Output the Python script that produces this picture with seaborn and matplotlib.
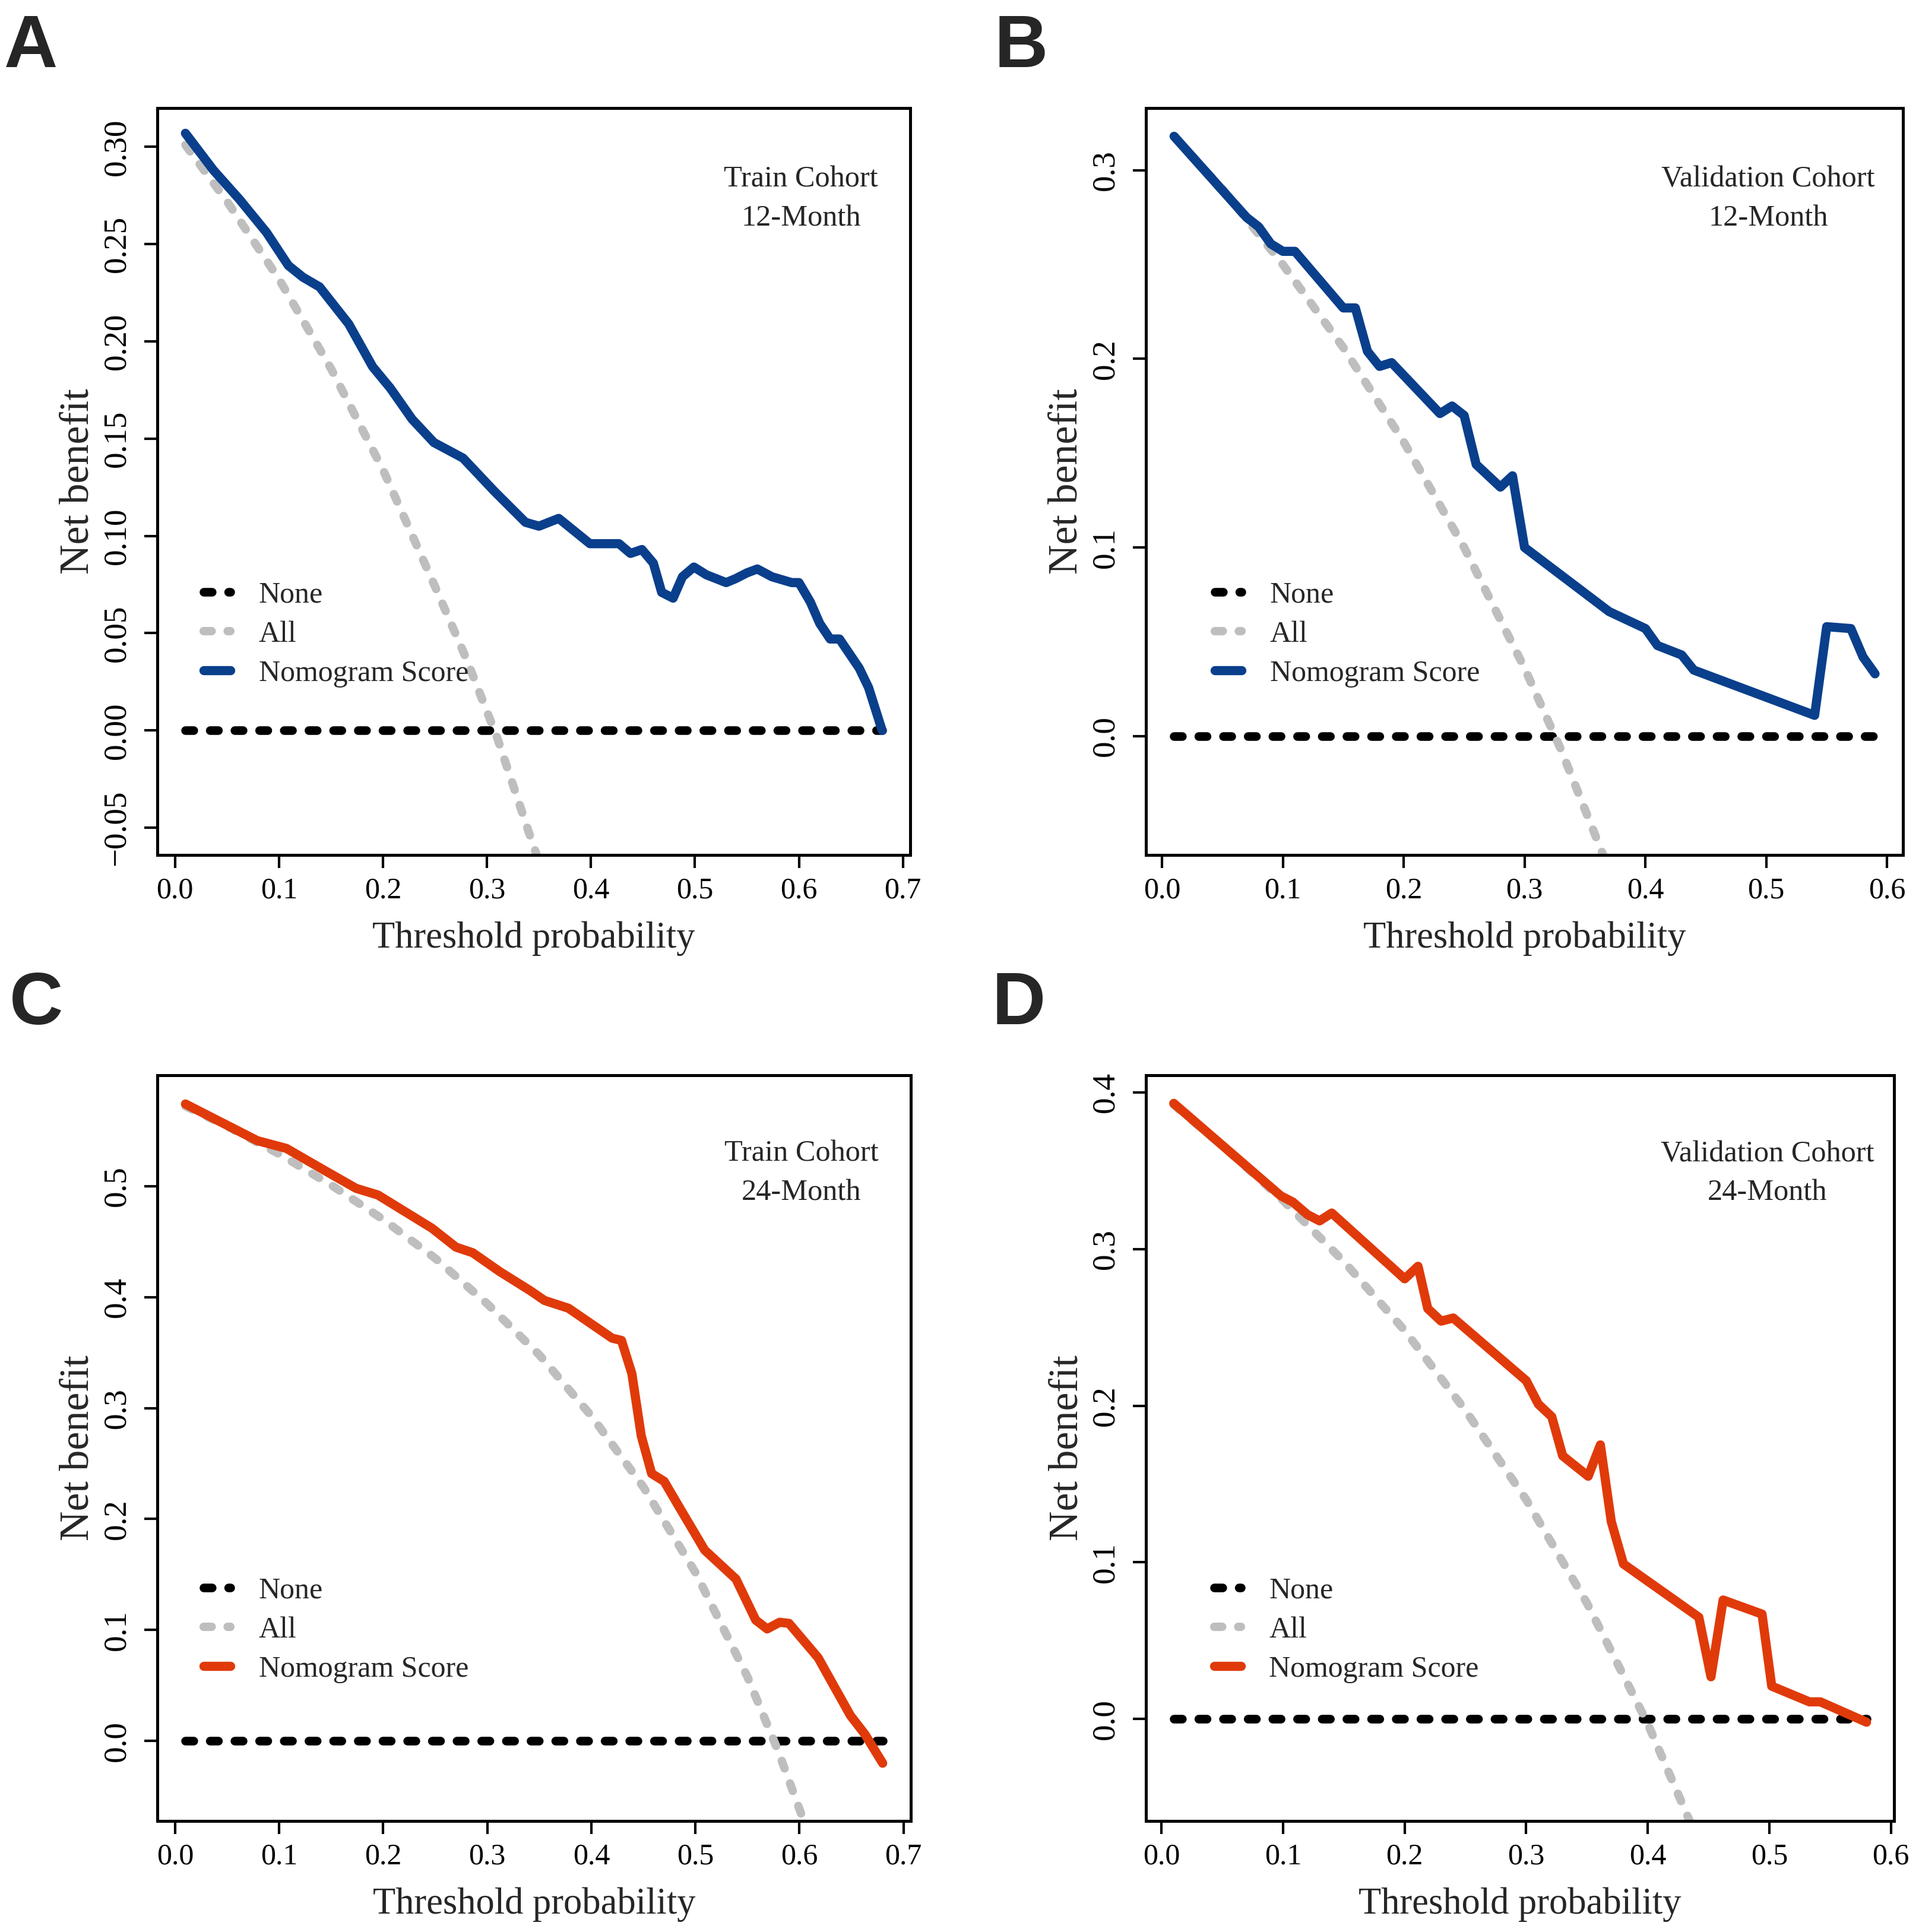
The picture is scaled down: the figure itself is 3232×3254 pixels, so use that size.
import matplotlib
matplotlib.use("Agg")
import matplotlib.pyplot as plt
import seaborn as sns

# ---- values ----
# A: train cohort, 12 months
a_thr = [0.01, 0.037, 0.062, 0.088, 0.109, 0.123, 0.139, 0.167, 0.19, 0.207, 0.228, 0.249,
         0.263, 0.277, 0.307, 0.337, 0.35, 0.369, 0.399, 0.427, 0.438, 0.449, 0.46, 0.468,
         0.479, 0.488, 0.499, 0.511, 0.53, 0.539, 0.55, 0.56, 0.574, 0.593, 0.60, 0.611,
         0.62, 0.63, 0.639, 0.658, 0.667, 0.68]
a_nomo = [0.307, 0.288, 0.273, 0.256, 0.239, 0.233, 0.228, 0.209, 0.187, 0.176, 0.160, 0.148,
          0.144, 0.140, 0.123, 0.107, 0.105, 0.109, 0.096, 0.096, 0.091, 0.093, 0.086, 0.071,
          0.068, 0.079, 0.084, 0.080, 0.076, 0.078, 0.081, 0.083, 0.079, 0.076, 0.076, 0.066,
          0.055, 0.047, 0.047, 0.032, 0.022, 0.0]
a_all_thr = [0.01, 0.05, 0.10, 0.15, 0.20, 0.25, 0.28, 0.31, 0.34, 0.36]
a_all = [0.301, 0.272, 0.232, 0.186, 0.134, 0.074, 0.037, -0.004, -0.052, -0.083]
a_none_thr = [0.01, 0.68]

# B: validation cohort, 12 months
b_thr = [0.01, 0.07, 0.08, 0.09, 0.10, 0.11, 0.15, 0.16, 0.17, 0.18, 0.19, 0.23, 0.24, 0.25,
         0.26, 0.28, 0.29, 0.30, 0.37, 0.40, 0.41, 0.43, 0.44, 0.54, 0.55, 0.57, 0.58, 0.59]
b_nomo = [0.318, 0.275, 0.270, 0.261, 0.257, 0.257, 0.227, 0.227, 0.204, 0.196, 0.198, 0.171,
          0.175, 0.170, 0.144, 0.132, 0.138, 0.100, 0.066, 0.057, 0.048, 0.043, 0.035, 0.011,
          0.058, 0.057, 0.042, 0.033]
b_all_thr = [0.01, 0.05, 0.10, 0.15, 0.20, 0.25, 0.30, 0.33, 0.37]
b_all = [0.318, 0.290, 0.250, 0.206, 0.156, 0.100, 0.036, -0.007, -0.071]
b_none_thr = [0.01, 0.59]

# C: train cohort, 24 months
c_thr = [0.01, 0.079, 0.107, 0.144, 0.174, 0.195, 0.247, 0.270, 0.286, 0.312, 0.341, 0.355,
         0.378, 0.42, 0.429, 0.439, 0.448, 0.458, 0.47, 0.485, 0.509, 0.539, 0.558, 0.569,
         0.581, 0.59, 0.618, 0.649, 0.663, 0.68]
c_nomo = [0.574, 0.541, 0.534, 0.514, 0.498, 0.492, 0.462, 0.445, 0.440, 0.423, 0.406, 0.397,
          0.390, 0.363, 0.361, 0.331, 0.275, 0.241, 0.234, 0.210, 0.172, 0.146, 0.109, 0.101,
          0.107, 0.106, 0.075, 0.023, 0.006, -0.020]
c_all_thr = [0.01, 0.05, 0.10, 0.15, 0.20, 0.25, 0.30, 0.35, 0.40, 0.45, 0.50, 0.55, 0.58, 0.61]
c_all = [0.572, 0.554, 0.529, 0.501, 0.470, 0.435, 0.394, 0.348, 0.293, 0.229, 0.152, 0.058,
         -0.010, -0.087]
c_none_thr = [0.01, 0.68]

# D: validation cohort, 24 months
d_thr = [0.01, 0.098, 0.108, 0.12, 0.13, 0.14, 0.20, 0.211, 0.219, 0.23, 0.24, 0.30, 0.31,
         0.321, 0.33, 0.351, 0.361, 0.37, 0.38, 0.442, 0.452, 0.462, 0.494, 0.502, 0.533,
         0.542, 0.58]
d_nomo = [0.393, 0.334, 0.330, 0.322, 0.318, 0.323, 0.281, 0.289, 0.262, 0.254, 0.256, 0.216,
          0.201, 0.193, 0.168, 0.155, 0.175, 0.126, 0.099, 0.065, 0.027, 0.076, 0.067, 0.021,
          0.011, 0.011, -0.002]
d_all_thr = [0.01, 0.05, 0.10, 0.15, 0.20, 0.25, 0.30, 0.35, 0.40, 0.44]
d_all = [0.392, 0.366, 0.331, 0.292, 0.248, 0.197, 0.140, 0.074, -0.003, -0.075]
d_none_thr = [0.01, 0.58]

none_nb = [0.0, 0.0]

xticks_07 = [0.0, 0.1, 0.2, 0.3, 0.4, 0.5, 0.6, 0.7]
xticks_06 = [0.0, 0.1, 0.2, 0.3, 0.4, 0.5, 0.6]
yticks_a = [-0.05, 0.0, 0.05, 0.10, 0.15, 0.20, 0.25, 0.30]
yticks_b = [0.0, 0.1, 0.2, 0.3]
yticks_c = [0.0, 0.1, 0.2, 0.3, 0.4, 0.5]
yticks_d = [0.0, 0.1, 0.2, 0.3, 0.4]

BLUE = "#0A3F8C"
RED = "#E03A0A"
GREY = "#BEBEBE"
DASH = (0, (0.95, 1.9))

sns.set_style("ticks")
plt.rcParams["font.family"] = ["Liberation Serif", "DejaVu Serif"]
plt.rcParams["axes.linewidth"] = 1.2
plt.rcParams["xtick.major.size"] = 5.3
plt.rcParams["ytick.major.size"] = 5.3
plt.rcParams["xtick.major.width"] = 1.0
plt.rcParams["ytick.major.width"] = 1.0
plt.rcParams["xtick.color"] = "black"
plt.rcParams["ytick.color"] = "black"
plt.rcParams["axes.edgecolor"] = "black"

panels = [
    dict(letter="A", letter_xy=(0.002, 0.9653), rect=[0.0820, 0.5575, 0.3923, 0.3866],
         thr=a_thr, nomo=a_nomo, all_thr=a_all_thr, all_nb=a_all, none_thr=a_none_thr,
         color=BLUE, xlim=(-0.017, 0.707), ylim=(-0.064, 0.320), xticks=xticks_07,
         yticks=yticks_a, ydec=2, cohort="Train Cohort", month="12-Month",
         tx=0.855, ty=(0.8946, 0.842), leg=(0.0615, 0.366)),
    dict(letter="B", letter_xy=(0.518, 0.9653), rect=[0.5972, 0.5575, 0.3945, 0.3866],
         thr=b_thr, nomo=b_nomo, all_thr=b_all_thr, all_nb=b_all, none_thr=b_none_thr,
         color=BLUE, xlim=(-0.0132, 0.6132), ylim=(-0.063, 0.333), xticks=xticks_06,
         yticks=yticks_b, ydec=1, cohort="Validation Cohort", month="12-Month",
         tx=0.822, ty=(0.8946, 0.842), leg=(0.091, 0.366)),
    dict(letter="C", letter_xy=(0.005, 0.4698), rect=[0.0820, 0.0575, 0.3926, 0.3860],
         thr=c_thr, nomo=c_nomo, all_thr=c_all_thr, all_nb=c_all, none_thr=c_none_thr,
         color=RED, xlim=(-0.017, 0.707), ylim=(-0.072, 0.600), xticks=xticks_07,
         yticks=yticks_c, ydec=1, cohort="Train Cohort", month="24-Month",
         tx=0.855, ty=(0.8848, 0.832), leg=(0.0615, 0.327)),
    dict(letter="D", letter_xy=(0.517, 0.4698), rect=[0.5972, 0.0575, 0.3899, 0.3860],
         thr=d_thr, nomo=d_nomo, all_thr=d_all_thr, all_nb=d_all, none_thr=d_none_thr,
         color=RED, xlim=(-0.0128, 0.6028), ylim=(-0.065, 0.411), xticks=xticks_06,
         yticks=yticks_d, ydec=1, cohort="Validation Cohort", month="24-Month",
         tx=0.8306, ty=(0.8848, 0.832), leg=(0.091, 0.327)),
]


def draw_panel(fig, p):
    ax = fig.add_axes(p["rect"])
    sns.lineplot(x=p["none_thr"], y=none_nb, ax=ax, color="black", linewidth=3.5,
                 linestyle=DASH, label="None", errorbar=None)
    sns.lineplot(x=p["all_thr"], y=p["all_nb"], ax=ax, color=GREY, linewidth=3.4,
                 linestyle=DASH, label="All", errorbar=None)
    sns.lineplot(x=p["thr"], y=p["nomo"], ax=ax, color=p["color"], linewidth=3.7,
                 label="Nomogram Score", errorbar=None)
    for line in ax.lines:
        line.set_dash_capstyle("round")
        line.set_solid_capstyle("round")
        line.set_solid_joinstyle("round")

    ax.set_xlim(*p["xlim"])
    ax.set_ylim(*p["ylim"])
    ax.set_xticks(p["xticks"])
    ax.set_xticklabels([f"{t:.1f}" for t in p["xticks"]], fontsize=12)
    ax.set_yticks(p["yticks"])
    fmt = "{:.%df}" % p["ydec"]
    ax.set_yticklabels([fmt.format(t).replace("-", "\u2212") for t in p["yticks"]],
                       fontsize=13.2, rotation=90, va="center")
    ax.tick_params(axis="x", direction="out", pad=3.5)
    ax.tick_params(axis="y", direction="out", pad=5)
    for s in ax.spines.values():
        s.set_visible(True)
        s.set_linewidth(1.2)

    ax.set_xlabel("Threshold probability", fontsize=15)
    ax.set_ylabel("Net benefit", fontsize=16.8)
    ax.xaxis.set_label_coords(0.5, -0.089)
    ax.yaxis.set_label_coords(-0.080, 0.5)

    ax.text(p["tx"], p["ty"][0], p["cohort"], transform=ax.transAxes,
            ha="center", va="baseline", fontsize=12.1)
    ax.text(p["tx"], p["ty"][1], p["month"], transform=ax.transAxes,
            ha="center", va="baseline", fontsize=12.1)

    ax.legend(loc="upper left", bbox_to_anchor=p["leg"], frameon=False, fontsize=12,
              handlelength=0.9, handletextpad=0.95, labelspacing=0.39,
              borderpad=0, borderaxespad=0)

    fig.text(p["letter_xy"][0], p["letter_xy"][1], p["letter"], fontsize=30,
             fontweight="bold", family=["Liberation Sans", "DejaVu Sans"],
             ha="left", va="baseline")
    return ax


fig = plt.figure(figsize=(10.7734, 10.8467), dpi=300)
for p in panels:
    draw_panel(fig, p)

fig.savefig("out.png", dpi=300, facecolor="white")
plt.close(fig)
